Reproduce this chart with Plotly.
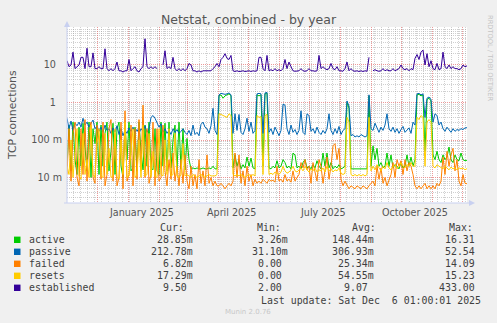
import pandas as pd
import plotly.graph_objects as go

# ---- data: one consolidated sample every 2 days, starting 2024-11-01 01:00 ----
START = pd.Timestamp("2024-11-01 01:00")
END = pd.Timestamp("2025-12-06 01:00")

active = [
    0.02, 0.25, 0.015, 0.3, 0.03, 0.012, 0.22, 0.02, 0.28, 0.05,
    0.015, 0.3, 0.01, 0.2, 0.08, 0.3, 0.012, 0.25, 0.02, 0.15,
    0.3, 0.015, 0.05, 0.28, 0.012, 0.2, 0.3, 0.02, 0.01, 0.25,
    0.03, 0.3, 0.015, 0.018, 0.22, 0.015, 0.3, 0.05, 0.016, 0.25,
    0.02, 0.3, 0.018, 0.016, 0.2, 0.015, 0.012, 0.3, 0.02, 0.28,
    0.015, 0.3, 0.018, 0.1, 0.25, 0.016, 0.3, 0.017, 0.2, 0.016,
    0.11, 0.03, 0.017, 0.018, 0.017, 0.018, 0.017, 0.017, 0.018, 0.017,
    0.017, 0.018, 0.017, 0.02, 0.017, 0.017, 1.5, 1.6, 1.3, 1.5,
    1.6, 1.7, 1.5, 0.018, 0.04, 0.02, 0.03, 0.017, 0.022, 0.018,
    0.035, 0.02, 0.033, 0.018, 0.017, 1.6, 1.5, 1.6, 0.02, 1.7,
    1.8, 0.018, 0.017, 0.02, 0.018, 0.028, 0.018, 0.02, 0.03, 0.025,
    0.018, 0.02, 0.017, 0.045, 0.04, 0.018, 0.02, 0.017, 0.025, 0.03,
    0.018, 0.02, 0.017, 0.022, 0.018, 0.028, 0.02, 0.017, 0.045, 0.02,
    0.045, 0.018, 0.025, 0.017, 0.02, 0.018, 0.022, 0.017, 0.018, 0.02,
    1.0, 0.7, 0.017, 0.017, 0.017, 0.017, 0.017, 0.017, 0.017, 0.017,
    0.017, 1.5, 0.02, 0.07, 0.03, 0.06, 0.02, 0.025, 0.018, 0.02,
    0.045, 0.02, 0.04, 0.018, 0.022, 0.02, 0.017, 0.025, 0.018, 0.02,
    0.04, 0.02, 0.035, 0.02, 0.03, 1.6, 1.65, 1.5, 1.6, 0.05,
    1.2, 1.3, 1.1, 0.04, 0.03, 0.05, 0.03, 0.025, 0.04, 0.03,
    0.035, 0.065, 0.03, 0.025, 0.04, 0.03, 0.028, 0.045, 0.03, 0.028,
    0.02885,
]

passive = [
    0.38, 0.2, 0.32, 0.18, 0.28, 0.24, 0.3, 0.22, 0.38, 0.25,
    0.3, 0.22, 0.28, 0.34, 0.2, 0.24, 0.17, 0.22, 0.16, 0.25,
    0.18, 0.2, 0.15, 0.21, 0.16, 0.24, 0.14, 0.2, 0.13, 0.18,
    0.15, 0.21, 0.17, 0.22, 0.16, 0.19, 0.15, 0.2, 0.17, 0.24,
    0.16, 0.2, 0.4, 0.45, 0.38, 0.3, 0.22, 0.27, 0.16, 0.2,
    0.15, 0.18, 0.14, 0.2, 0.16, 0.19, 0.15, 0.17, 0.2, 0.16,
    0.14, 0.18, 0.13, 0.25, 0.14, 0.16, 0.13, 0.26, 0.3, 0.22,
    0.2, 0.15, 0.24, 0.7, 0.18, 0.14, 1.6, 1.75, 1.7, 1.65,
    1.7, 1.8, 1.6, 0.15, 0.5, 0.18, 0.48, 0.16, 0.14, 0.2,
    0.38, 0.17, 0.3, 0.15, 0.18, 1.7, 1.75, 1.7, 0.15, 1.8,
    1.85, 0.16, 0.2, 0.14, 0.22, 0.16, 0.13, 0.18, 0.9, 0.85,
    0.2, 0.14, 0.25, 0.16, 0.19, 0.14, 0.18, 0.6, 0.16, 0.14,
    0.5, 0.45, 0.17, 0.2, 0.15, 0.22, 0.16, 0.14, 0.18, 0.15,
    0.2, 0.5, 0.18, 0.14, 0.2, 0.15, 0.23, 0.14, 0.18, 0.2,
    1.1, 0.8, 0.13, 0.14, 0.12, 0.13, 0.12, 0.14, 0.13, 0.12,
    0.13, 1.6, 0.2, 0.18, 0.28, 0.2, 0.16, 0.22, 0.18, 0.25,
    0.5, 0.2, 0.17, 0.22, 0.16, 0.2, 0.15, 0.19, 0.23, 0.16,
    0.18, 0.21, 0.15, 0.3, 0.25, 1.7, 1.75, 1.6, 1.7, 0.4,
    1.3, 1.4, 1.2, 0.3, 0.5, 0.45, 0.25, 0.3, 0.2, 0.17,
    0.22, 0.18, 0.16, 0.2, 0.17, 0.19, 0.18, 0.2, 0.19, 0.21,
    0.21278,
]

failed = [
    0.012, 0.2, 0.008, 0.15, 0.3, 0.01, 0.006, 0.2, 0.012, 0.35,
    0.008, 0.15, 0.3, 0.01, 0.007, 0.25, 0.1, 0.009, 0.3, 0.006,
    0.012, 0.2, 0.35, 0.008, 0.15, 0.006, 0.01, 0.3, 0.005, 0.6,
    0.008, 0.012, 0.25, 0.006, 0.2, 0.009, 0.35, 0.015, 0.85, 0.01,
    0.2, 0.007, 0.012, 0.3, 0.006, 0.2, 0.008, 0.01, 0.25, 0.015,
    0.006, 0.03, 0.009, 0.045, 0.008, 0.02, 0.006, 0.03, 0.007, 0.04,
    0.008, 0.005, 0.02, 0.006, 0.012, 0.005, 0.03, 0.007, 0.015, 0.006,
    0.04, 0.007, 0.01, 0.006, 0.008, 0.006, 0.006, 0.007, 0.006, 0.005,
    0.006, 0.007, 0.006, 0.008, 0.045, 0.01, 0.04, 0.007, 0.015, 0.006,
    0.02, 0.008, 0.012, 0.006, 0.009, 0.007, 0.008, 0.007, 0.009, 0.008,
    0.007, 0.009, 0.008, 0.0085, 0.0075, 0.02, 0.008, 0.009, 0.0075, 0.012,
    0.008, 0.009, 0.0075, 0.015, 0.008, 0.01, 0.012, 0.025, 0.018, 0.03,
    0.016, 0.02, 0.007, 0.025, 0.015, 0.008, 0.03, 0.02, 0.007, 0.018,
    0.035, 0.009, 0.02, 0.07, 0.08, 0.03, 0.06, 0.009, 0.006, 0.008,
    0.006, 0.005, 0.006, 0.0055, 0.005, 0.006, 0.0055, 0.005, 0.006, 0.0055,
    0.005, 0.006, 0.007, 0.008, 0.006, 0.02, 0.009, 0.018, 0.007, 0.01,
    0.006, 0.008, 0.012, 0.025, 0.01, 0.03, 0.02, 0.028, 0.012, 0.03,
    0.015, 0.025, 0.02, 0.012, 0.006, 0.005, 0.006, 0.005, 0.006, 0.007,
    0.005, 0.006, 0.005, 0.006, 0.005, 0.007, 0.006, 0.008, 0.035, 0.012,
    0.05, 0.02, 0.04, 0.06, 0.015, 0.03, 0.008, 0.006, 0.012, 0.007,
    0.00682,
]

resets = [
    0.02, 0.012, 0.1, 0.01, 0.05, 0.2, 0.011, 0.009, 0.15, 0.012,
    0.03, 0.01, 0.25, 0.012, 0.01, 0.08, 0.2, 0.011, 0.01, 0.15,
    0.012, 0.06, 0.01, 0.011, 0.2, 0.01, 0.009, 0.1, 0.012, 0.3,
    0.01, 0.011, 0.05, 0.2, 0.01, 0.012, 0.1, 0.01, 0.25, 0.011,
    0.012, 0.15, 0.01, 0.05, 0.011, 0.01, 0.2, 0.012, 0.011, 0.1,
    0.012, 0.2, 0.011, 0.012, 0.15, 0.011, 0.01, 0.012, 0.08, 0.011,
    0.012, 0.011, 0.01, 0.012, 0.011, 0.01, 0.011, 0.012, 0.011, 0.01,
    0.011, 0.012, 0.011, 0.011, 0.011, 0.012, 0.5, 0.48, 0.45, 0.42,
    0.4, 0.5, 0.45, 0.012, 0.011, 0.012, 0.011, 0.012, 0.011, 0.01,
    0.011, 0.012, 0.011, 0.012, 0.011, 0.45, 0.4, 0.42, 0.012, 0.45,
    0.48, 0.012, 0.013, 0.012, 0.014, 0.013, 0.012, 0.014, 0.02, 0.015,
    0.013, 0.014, 0.016, 0.02, 0.015, 0.014, 0.016, 0.018, 0.015, 0.02,
    0.016, 0.014, 0.017, 0.015, 0.018, 0.014, 0.016, 0.015, 0.018, 0.014,
    0.02, 0.015, 0.017, 0.014, 0.016, 0.015, 0.018, 0.013, 0.012, 0.013,
    0.4, 0.3, 0.012, 0.011, 0.012, 0.011, 0.012, 0.011, 0.012, 0.011,
    0.012, 0.4, 0.015, 0.02, 0.016, 0.022, 0.018, 0.015, 0.02, 0.017,
    0.025, 0.018, 0.016, 0.02, 0.022, 0.017, 0.019, 0.025, 0.02, 0.018,
    0.022, 0.02, 0.025, 0.02, 0.02, 0.4, 0.35, 0.45, 0.4, 0.02,
    0.3, 0.35, 0.3, 0.02, 0.018, 0.022, 0.02, 0.018, 0.017, 0.02,
    0.018, 0.016, 0.019, 0.017, 0.018, 0.016, 0.018, 0.017, 0.018, 0.016,
    0.01729,
]

established = [
    13, 9, 10, 22, 8, 9, 10, 16, 16, 8,
    28, 9, 9, 21, 8, 8, 9, 8, 8, 27,
    8, 7, 8, 7, 8, 12, 7, 7, 6.5, 7,
    7, 14, 7, 8, 9, 7, 6.5, 8, 9, 50,
    9, 8, 9, 8, 9, 8, None, None, 10, 24,
    8, 9, 8, 16, 8, 7, 8, 7, 8, 7,
    8, 11, 10, 7, 7, 6.5, 7, 6.5, 7, 7,
    6.8, 7, 7, 8, 9, 11, 9, 14, 16, 20,
    15, 14, 18, 7, 6.7, 7, 6.7, 6.8, 7, 6.7,
    6.8, 7, 6.7, 7, 6.8, 7, 16, 16, 8, 7,
    18, 7, 7.5, 7, 8, 7, 7.5, 7, 8, 14,
    8, 12, 9, 7, 6.8, 7, 7, 8, 7, 6.8,
    7, 8, 7, 7, 6.8, 7, 18, 8, 9, 8,
    7.5, 8, 11, 8, 7.5, 9, 7, 7, 6.8, 8,
    12, 7, 8, 7, 6.8, 7, 6.7, 7, 6.7, 7,
    6.8, 16, None, 7, 7.5, 7, 6.8, 7, 8, 7,
    7.5, 7, 7, 8, 7, 7.5, 8, 10, 8, 7.5,
    8, 7, 8, 7.5, 15, 19, 14, 22, 25, 10,
    20, 9, 13, 8, 7.5, 11, 7.5, 8, 22, 9,
    8, 10, 8, 9, 8, 8, 7.5, 8, 10, 9,
    9.5,
]

names = ["active", "passive", "failed", "resets", "established"]
colors = ["#00CC00", "#0066B3", "#FF8000", "#FFCC00", "#330099"]
series = [active, passive, failed, resets, established]

cur_txt = ["28.85m", "212.78m", "6.82m", "17.29m", "9.50"]
min_txt = ["3.26m", "31.10m", "0.00", "0.00", "2.00"]
avg_txt = ["148.44m", "306.93m", "25.34m", "54.55m", "9.07"]
max_txt = ["16.31", "52.54", "14.09", "15.23", "433.00"]

y_tick_vals = [0.01, 0.1, 1, 10]
y_tick_text = ["10 m", "100 m", "1\u00a0\u00a0", "10\u00a0\u00a0"]
x_label_text = ["January 2025", "April 2025", "July 2025", "October 2025"]
x_label_dates = ["2025-01-15", "2025-04-15", "2025-07-15", "2025-10-15"]

# ---- geometry helpers (pixel -> paper) ----
W, H = 497, 323
PL, PR, PT, PB = 67, 467, 27, 203


def px(x):
    return (x - PL) / (PR - PL)


def py(y):
    return (PB - y) / (PB - PT)


RED = "rgba(228,110,110,0.7)"
GRAY = "rgba(150,150,150,0.45)"
AXIS = "#c8d0f0"
TXT = "#555555"
MONO = "DejaVu Sans Mono"
SANS = "DejaVu Sans"

fig = go.Figure()
for name, vals, color in zip(names, series, colors):
    xs = [START + pd.Timedelta(days=2 * i) for i in range(len(vals))]
    fig.add_trace(go.Scatter(
        x=xs, y=vals, mode="lines", name=name,
        line=dict(color=color, width=1), hoverinfo="skip",
        showlegend=False,
    ))

month_starts = pd.date_range("2024-12-01 01:00", "2025-12-01 01:00", freq="MS") + pd.Timedelta(hours=1)
week_lines = pd.date_range("2024-11-07 01:00", "2025-12-05", freq="7D")
minor_y = [k * 10.0 ** e for e in range(-3, 2) for k in range(2, 10)]

fig.update_layout(
    width=W, height=H, autosize=False,
    margin=dict(l=PL, r=W - PR, t=PT, b=H - PB, pad=0),
    paper_bgcolor="#F0F0F0", plot_bgcolor="#FFFFFF",
    showlegend=False,
    title=dict(text="Netstat, combined - by year", x=0.5, xref="container",
               xanchor="center", y=1 - 19.5 / H, yref="container", yanchor="middle",
               font=dict(family=SANS, size=12.5, color=TXT)),
)

fig.update_xaxes(
    type="date", range=[START, END],
    tickvals=list(month_starts), showticklabels=False, ticks="",
    showgrid=True, gridcolor=RED, gridwidth=1, griddash="1px,1px",
    zeroline=False, showline=False,
    minor=dict(tickvals=list(week_lines), showgrid=True, gridcolor=GRAY,
               gridwidth=1, griddash="1px,1px", ticks=""),
)
fig.update_yaxes(
    type="log", range=[-2.68, 2.013],
    tickvals=y_tick_vals, ticktext=y_tick_text, ticks="",
    tickfont=dict(family=SANS, size=9.6, color=TXT), ticklabelstandoff=4,
    showgrid=True, gridcolor=RED, gridwidth=1, griddash="1px,1px",
    zeroline=False, showline=False,
    minor=dict(tickvals=minor_y, showgrid=True, gridcolor=GRAY,
               gridwidth=1, griddash="1px,1px", ticks=""),
)

ann = []
# month labels under the time axis
for t, d in zip(x_label_text, x_label_dates):
    ann.append(dict(x=d, xref="x", y=py(212.7), yref="paper", text=t, showarrow=False,
                    xanchor="center", yanchor="middle",
                    font=dict(family=SANS, size=9.6, color=TXT)))
# vertical axis title
ann.append(dict(x=px(12), y=py(115), xref="paper", yref="paper", text="TCP connections",
                showarrow=False, textangle=-90, xanchor="center", yanchor="middle",
                font=dict(family=SANS, size=10.8, color=TXT)))
# side credit
ann.append(dict(x=px(490), y=py(58), xref="paper", yref="paper", text="RRDTOOL / TOBI OETIKER",
                showarrow=False, textangle=90, xanchor="center", yanchor="middle",
                font=dict(family=SANS, size=6.7, color="#c4c4c4")))
ann.append(dict(x=px(248), y=py(311.7), xref="paper", yref="paper", text="Munin 2.0.76",
                showarrow=False, xanchor="center", yanchor="middle",
                font=dict(family=SANS, size=7, color="#c8c8c8")))

# legend table
mono = dict(family=MONO, size=9.9, color="#404040")
for hdr, x0 in zip(["Cur:", "Min:", "Avg:", "Max:"], [158, 255, 350, 447]):
    ann.append(dict(x=px(x0), y=py(227.3), xref="paper", yref="paper", text=hdr,
                    showarrow=False, xanchor="left", yanchor="middle", font=mono))


def cell(s):
    return s if s.endswith("m") else s + "\u00a0"


shapes = []
for i, (name, color) in enumerate(zip(names, colors)):
    yc = 239.8 + 12 * i
    shapes.append(dict(type="rect", xref="paper", yref="paper",
                       x0=px(14), x1=px(20.5), y0=py(yc + 3.2), y1=py(yc - 3.2),
                       fillcolor=color, line=dict(width=0)))
    ann.append(dict(x=px(26.5), y=py(yc), xref="paper", yref="paper", text=name,
                    showarrow=False, xanchor="left", yanchor="middle", font=mono))
    for col, xr in zip([cur_txt, min_txt, avg_txt, max_txt], [194.5, 289.5, 375.5, 483]):
        ann.append(dict(x=px(xr), y=py(yc), xref="paper", yref="paper", text=cell(col[i]),
                        showarrow=False, xanchor="right", yanchor="middle", font=mono))
ann.append(dict(x=px(482.5), y=py(300), xref="paper", yref="paper",
                text="Last update: Sat Dec \u00a06 01:00:01 2025",
                showarrow=False, xanchor="right", yanchor="middle", font=mono))

# axes with arrow heads
shapes.append(dict(type="line", xref="paper", yref="paper", x0=px(67), x1=px(67),
                   y0=py(203), y1=py(24), line=dict(color=AXIS, width=1), layer="above"))
shapes.append(dict(type="path", xref="paper", yref="paper",
                   path=f"M {px(64)} {py(27)} L {px(70)} {py(27)} L {px(67)} {py(21)} Z",
                   fillcolor=AXIS, line=dict(width=0), layer="above"))
shapes.append(dict(type="line", xref="paper", yref="paper", x0=px(64), x1=px(470),
                   y0=py(203), y1=py(203), line=dict(color=AXIS, width=1), layer="above"))
shapes.append(dict(type="path", xref="paper", yref="paper",
                   path=f"M {px(469)} {py(200)} L {px(469)} {py(206)} L {px(475)} {py(203)} Z",
                   fillcolor=AXIS, line=dict(width=0), layer="above"))

fig.update_layout(annotations=ann, shapes=shapes)
fig.write_html("out.html")
